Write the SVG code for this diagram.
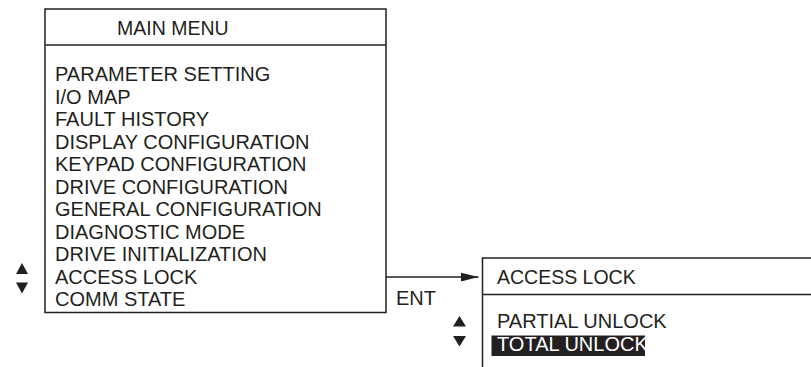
<svg xmlns="http://www.w3.org/2000/svg" width="811" height="367" viewBox="0 0 811 367">
<style>
  .t{font-family:"Liberation Sans",Arial,sans-serif;font-size:20px;fill:#231f20}
  .h{font-family:"Liberation Sans",Arial,sans-serif;font-size:19.5px;fill:#231f20}
  .w{font-family:"Liberation Sans",Arial,sans-serif;font-size:20px;fill:#ffffff}
  .ln{stroke:#231f20;stroke-width:1.5;fill:none}
  .tri{fill:#231f20}
</style>
<defs>
  <marker id="ah" markerWidth="18" markerHeight="10" refX="18" refY="5" orient="auto" markerUnits="userSpaceOnUse">
    <path d="M0,0.5 L18,5 L0,9.5 Z" fill="#231f20"/>
  </marker>
</defs>
<rect width="811" height="367" fill="#ffffff"/>
<g id="main-menu">
  <rect class="ln" x="45" y="9" width="341" height="303.5"/>
  <line class="ln" x1="45" y1="45" x2="386" y2="45"/>
  <text class="h" x="117" y="35">MAIN MENU</text>
  <text class="t" x="55" y="81">PARAMETER SETTING</text>
  <text class="t" x="55" y="103.5">I/O MAP</text>
  <text class="t" x="55" y="126">FAULT HISTORY</text>
  <text class="t" x="55" y="148.5">DISPLAY CONFIGURATION</text>
  <text class="t" x="55" y="171">KEYPAD CONFIGURATION</text>
  <text class="t" x="55" y="193.5">DRIVE CONFIGURATION</text>
  <text class="t" x="55" y="216">GENERAL CONFIGURATION</text>
  <text class="t" x="55" y="238.5">DIAGNOSTIC MODE</text>
  <text class="t" x="55" y="261">DRIVE INITIALIZATION</text>
  <text class="t" x="55" y="283.5">ACCESS LOCK</text>
  <text class="t" x="55" y="306">COMM STATE</text>
  <polygon class="tri" points="16,274 22,263 28,274"/>
  <polygon class="tri" points="16,282.5 28,282.5 22,293.5"/>
</g>
<g id="access-lock">
  <polyline class="ln" points="811,258 482.5,258 482.5,367"/>
  <line class="ln" x1="482.5" y1="294.5" x2="811" y2="294.5"/>
  <text class="h" x="497" y="283.5">ACCESS LOCK</text>
  <text class="t" x="497" y="328">PARTIAL UNLOCK</text>
  <rect x="491.5" y="335.5" width="153.5" height="20.5" fill="#231f20"/>
  <text class="w" x="497" y="350.5">TOTAL UNLOCK</text>
  <polygon class="tri" points="453,326.5 459.5,316 466,326.5"/>
  <polygon class="tri" points="453,336 466,336 459.5,346.5"/>
</g>
<g id="connectors">
  <line class="ln" x1="386" y1="277" x2="478.5" y2="277" marker-end="url(#ah)"/>
  <text class="t" x="396" y="305">ENT</text>
</g>
</svg>
